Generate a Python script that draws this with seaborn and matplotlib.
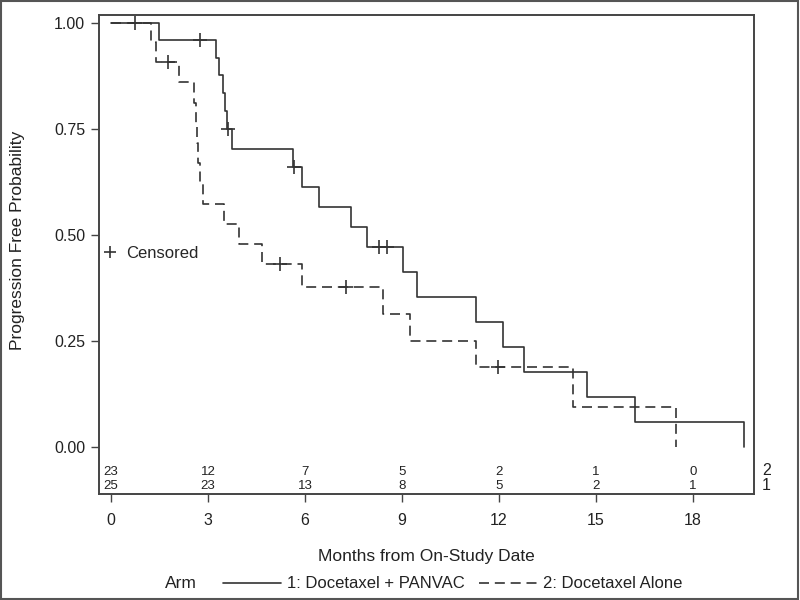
import matplotlib
matplotlib.use("Agg")
import matplotlib.pyplot as plt
from matplotlib.lines import Line2D
from matplotlib.patches import Rectangle
import seaborn as sns
import pandas as pd

# ---- data ----
arm1_time = [0, 1.49, 3.26, 3.33, 3.45, 3.52, 3.60, 3.75, 5.64, 5.92, 6.44, 7.42, 7.92,
             9.03, 9.47, 11.28, 12.13, 12.78, 14.72, 16.22, 19.57]
arm1_surv = [1.0, 0.96, 0.918, 0.877, 0.835, 0.793, 0.751, 0.704, 0.66, 0.613, 0.566, 0.519,
             0.472, 0.413, 0.354, 0.295, 0.236, 0.177, 0.118, 0.059, 0.0]
arm1_cens_time = [2.76, 3.63, 5.66, 8.30, 8.53]
arm1_cens_surv = [0.96, 0.751, 0.66, 0.472, 0.472]

arm2_time = [0, 1.24, 1.39, 2.11, 2.58, 2.63, 2.66, 2.70, 2.74, 2.85, 3.49, 3.95, 4.66,
             5.90, 8.40, 9.24, 11.28, 14.30, 17.49]
arm2_surv = [1.0, 0.955, 0.909, 0.861, 0.813, 0.765, 0.718, 0.670, 0.622, 0.574, 0.526,
             0.478, 0.431, 0.377, 0.314, 0.251, 0.189, 0.094, 0.0]
arm2_cens_time = [0.75, 1.76, 5.22, 7.28, 11.98]
arm2_cens_surv = [1.0, 0.909, 0.431, 0.377, 0.189]

arm_labels = ["1: Docetaxel + PANVAC", "2: Docetaxel Alone"]
risk_times = [0, 3, 6, 9, 12, 15, 18]
risk_arm1 = [25, 23, 13, 8, 5, 2, 1]
risk_arm2 = [23, 12, 7, 5, 2, 1, 0]
x_ticks = [0, 3, 6, 9, 12, 15, 18]
y_ticks = [0.0, 0.25, 0.5, 0.75, 1.0]

# ---- styling ----
sns.set_theme(style="white")
plt.rcParams["font.family"] = ["Liberation Sans", "DejaVu Sans"]
ink = "#222222"
line_col = "#333333"

fig = plt.figure(figsize=(8, 6), dpi=100)
ax = fig.add_axes([99 / 800, 1 - 494 / 600, (754 - 99) / 800, (494 - 15) / 600])

curves = pd.concat([
    pd.DataFrame({"time": arm1_time, "surv": arm1_surv, "arm": arm_labels[0]}),
    pd.DataFrame({"time": arm2_time, "surv": arm2_surv, "arm": arm_labels[1]}),
])
cens = pd.concat([
    pd.DataFrame({"time": arm1_cens_time, "surv": arm1_cens_surv, "arm": arm_labels[0]}),
    pd.DataFrame({"time": arm2_cens_time, "surv": arm2_cens_surv, "arm": arm_labels[1]}),
])

dash_map = {arm_labels[0]: "", arm_labels[1]: (6, 3.5)}
sns.lineplot(data=curves, x="time", y="surv", style="arm", dashes=dash_map,
             color=line_col, linewidth=1.2, drawstyle="steps-post",
             estimator=None, sort=False, legend=False, ax=ax)
sns.scatterplot(data=cens, x="time", y="surv", marker="+", s=90, color=line_col,
                linewidth=1.2, legend=False, ax=ax, zorder=3)

ax.set_xlim(-0.371, 19.89)
ax.set_ylim(-0.111, 1.0196)
ax.set_xticks(x_ticks)
ax.set_xticklabels([str(t) for t in x_ticks])
ax.set_yticks(y_ticks)
ax.set_yticklabels([f"{v:.2f}" for v in y_ticks])
ax.tick_params(axis="both", direction="out", length=6, width=1.0, color="#444444",
               labelsize=11.5, labelcolor=ink, left=True, bottom=True)
ax.tick_params(axis="x", pad=8)
ax.tick_params(axis="y", pad=4)
for sp in ax.spines.values():
    sp.set_color("#444444")
    sp.set_linewidth(1.4)

ax.set_xlabel("Months from On-Study Date", fontsize=12.5, color=ink)
ax.set_ylabel("Progression Free Probability", fontsize=12.5, color=ink)
ax.xaxis.set_label_coords(0.5, -0.115)
ax.yaxis.set_label_coords(-0.113, 0.53)

# at-risk table inside the axes
for t, n2, n1 in zip(risk_times, risk_arm2, risk_arm1):
    ax.text(t, -0.058, str(n2), ha="center", va="center", fontsize=9.5, color=ink)
    ax.text(t, -0.092, str(n1), ha="center", va="center", fontsize=9.5, color=ink)
tr = ax.get_yaxis_transform()
ax.text(1.012, -0.056, "2", transform=tr, ha="left", va="center", fontsize=11.5, color=ink,
        clip_on=False)
ax.text(1.012, -0.090, "1", transform=tr, ha="left", va="center", fontsize=11.5, color=ink,
        clip_on=False)

# censored legend
cens_handle = Line2D([], [], marker="+", ls="", color=line_col, ms=9, mew=1.2, label="Censored")
ax.legend(handles=[cens_handle], loc="center left", bbox_to_anchor=(0.004, 0.503),
          frameon=False, fontsize=12, handlelength=1.0, handletextpad=0.5,
          borderpad=0, borderaxespad=0)

# bottom legend
fig.text(165 / 800, 1 - 584 / 600, "Arm", ha="left", va="center", fontsize=12.5, color=ink)
h1 = Line2D([], [], color=line_col, lw=1.2, label=arm_labels[0])
h2 = Line2D([], [], color=line_col, lw=1.2, dashes=(6, 3.5), label=arm_labels[1])
fig.legend(handles=[h1, h2], loc="center left", bbox_to_anchor=(223 / 800, 1 - 584 / 600),
           ncol=2, frameon=False, fontsize=12, handlelength=3.5, handletextpad=0.35,
           columnspacing=0.85, borderpad=0, borderaxespad=0, labelcolor=ink)

# outer border
fig.patches.append(Rectangle((0.001, 0.001), 0.997, 0.997, transform=fig.transFigure,
                             fill=False, edgecolor="#555555", linewidth=1.5))

fig.savefig("out.png", dpi=100)
